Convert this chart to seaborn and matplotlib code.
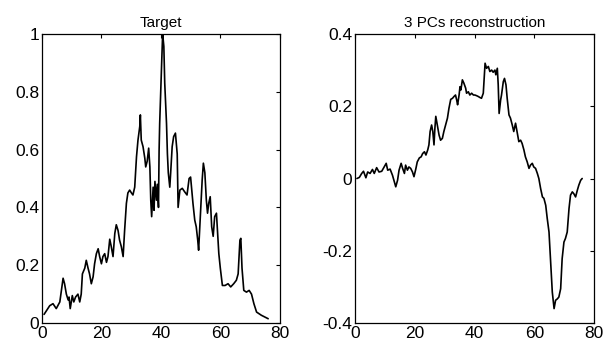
import matplotlib
matplotlib.use("Agg")
import matplotlib.pyplot as plt
import seaborn as sns
import pandas as pd

sns.set_theme(style="white")
plt.rcParams["font.family"] = ["Liberation Sans", "DejaVu Sans"]

# Target series
target_x = [0.7, 2.6, 3.7, 4.8, 6.0, 6.5, 7.1, 7.6, 8.2, 8.8, 9.1, 9.5, 10.2, 10.7,
            11.3, 12.1, 12.7, 13.2, 13.6, 14.4, 14.9, 15.5, 16.0, 16.6, 17.2, 17.7,
            18.3, 18.9, 19.4, 20.0, 20.5, 21.1, 21.7, 22.2, 22.8, 23.3, 23.9, 24.5,
            25.0, 25.6, 26.1, 26.7, 27.3, 27.8, 28.4, 28.9, 29.5, 30.1, 30.6, 31.2,
            31.8, 32.3, 32.9, 33.1, 33.4, 34.0, 34.6, 34.9, 35.4, 35.9, 36.3, 36.6,
            36.9, 37.4, 37.7, 38.0, 38.5, 38.8, 39.2, 39.4, 39.6, 40.0, 40.3, 40.6,
            41.0, 41.3, 41.9, 42.2, 42.5, 43.0, 43.3, 43.8, 44.3, 44.9, 45.5, 45.8,
            46.4, 47.2, 48.0, 48.8, 49.5, 50.0, 50.3, 50.8, 51.4, 51.9, 52.4, 52.7,
            53.1, 53.4, 53.9, 54.3, 54.8, 55.3, 55.7, 56.1, 56.6, 57.1, 57.6, 58.1,
            58.7, 59.1, 59.5, 60.0, 60.7, 61.6, 62.6, 63.5, 64.5, 65.4, 66.0, 66.6,
            66.9, 67.3, 67.9, 68.8, 69.7, 70.5, 71.3, 72.2, 73.8, 76.1]
target_y = [0.03, 0.06, 0.067, 0.05, 0.073, 0.11, 0.155, 0.136, 0.10, 0.08, 0.09,
            0.05, 0.095, 0.073, 0.09, 0.10, 0.073, 0.10, 0.17, 0.19, 0.217, 0.19,
            0.17, 0.136, 0.16, 0.205, 0.24, 0.257, 0.23, 0.205, 0.23, 0.24, 0.21,
            0.23, 0.29, 0.265, 0.23, 0.31, 0.34, 0.32, 0.287, 0.264, 0.23, 0.32,
            0.414, 0.45, 0.46, 0.45, 0.443, 0.47, 0.575, 0.633, 0.68, 0.72, 0.633,
            0.61, 0.57, 0.54, 0.56, 0.605, 0.54, 0.425, 0.368, 0.47, 0.39, 0.49,
            0.425, 0.48, 0.40, 0.595, 0.69, 0.82, 0.91, 1.0, 0.957, 0.83, 0.69,
            0.585, 0.52, 0.47, 0.52, 0.61, 0.645, 0.657, 0.585, 0.40, 0.46, 0.466,
            0.454, 0.443, 0.50, 0.505, 0.47, 0.414, 0.356, 0.333, 0.287, 0.252,
            0.333, 0.40, 0.495, 0.553, 0.52, 0.425, 0.38, 0.414, 0.437, 0.333, 0.30,
            0.368, 0.38, 0.31, 0.24, 0.19, 0.13, 0.13, 0.136, 0.125, 0.136, 0.148,
            0.17, 0.287, 0.293, 0.19, 0.113, 0.107, 0.113, 0.10, 0.067, 0.038,
            0.027, 0.015]

# Reconstruction from the first 3 principal components
recon_x = [0.6, 1.4, 2.2, 2.8, 3.6, 4.2, 5.0, 5.8, 6.4, 7.2, 8.0, 8.9, 9.7, 10.4,
           10.9, 11.7, 12.5, 13.1, 13.6, 14.2, 14.7, 15.4, 15.9, 16.5, 16.9, 17.5,
           18.0, 18.6, 19.2, 19.7, 20.3, 20.8, 21.5, 22.1, 22.6, 23.2, 23.7, 24.3,
           24.7, 25.1, 25.6, 26.0, 26.4, 26.7, 27.0, 27.5, 28.1, 28.6, 29.2, 29.7,
           30.3, 30.9, 31.4, 32.0, 32.6, 33.1, 33.6, 34.0, 34.3, 34.8, 35.1, 35.4,
           35.9, 36.4, 37.0, 37.3, 37.9, 38.4, 39.0, 39.6, 40.1, 40.7, 41.2, 41.8,
           42.3, 42.9, 43.5, 44.0, 44.6, 45.1, 45.7, 46.2, 46.8, 47.1, 47.6, 47.9,
           48.2, 48.7, 49.0, 49.6, 50.0, 50.5, 50.9, 51.5, 52.0, 52.6, 53.1, 53.7,
           54.2, 54.8, 55.4, 55.9, 56.5, 57.0, 57.6, 58.2, 58.7, 59.3, 59.8, 60.4,
           61.0, 61.5, 62.1, 62.7, 63.2, 63.8, 64.3, 64.9, 65.5, 66.0, 66.6, 67.1,
           67.7, 68.2, 68.8, 69.3, 69.9, 70.4, 71.0, 71.6, 72.1, 72.7, 73.2, 73.8,
           74.4, 74.9, 75.5, 76.0]
recon_y = [0.0, 0.003, 0.014, 0.02, 0.002, 0.018, 0.014, 0.025, 0.014, 0.03, 0.018,
           0.02, 0.032, 0.042, 0.023, 0.026, 0.009, -0.009, -0.023, -0.005, 0.023,
           0.042, 0.028, 0.014, 0.037, 0.023, 0.032, 0.028, 0.018, 0.005, 0.026,
           0.046, 0.057, 0.06, 0.069, 0.074, 0.065, 0.079, 0.093, 0.13, 0.148,
           0.13, 0.093, 0.139, 0.172, 0.148, 0.12, 0.106, 0.111, 0.13, 0.148,
           0.167, 0.194, 0.219, 0.222, 0.227, 0.231, 0.217, 0.204, 0.231, 0.254,
           0.245, 0.273, 0.264, 0.25, 0.236, 0.24, 0.231, 0.236, 0.231, 0.231,
           0.229, 0.227, 0.224, 0.222, 0.236, 0.319, 0.305, 0.31, 0.296, 0.30,
           0.294, 0.30, 0.287, 0.305, 0.259, 0.18, 0.217, 0.231, 0.268, 0.277,
           0.259, 0.222, 0.176, 0.167, 0.148, 0.13, 0.153, 0.13, 0.102, 0.106,
           0.097, 0.079, 0.06, 0.046, 0.028, 0.037, 0.042, 0.032, 0.028, 0.014,
           0.0, -0.028, -0.051, -0.055, -0.074, -0.11, -0.148, -0.24, -0.314,
           -0.36, -0.337, -0.333, -0.328, -0.305, -0.222, -0.176, -0.166, -0.148,
           -0.083, -0.046, -0.037, -0.042, -0.051, -0.032, -0.018, -0.005, 0.0]

x_ticks = [0, 20, 40, 60, 80]
x_tick_labels = ["0", "20", "40", "60", "80"]
target_ticks = [0, 0.2, 0.4, 0.6, 0.8, 1.0]
target_tick_labels = ["0", "0.2", "0.4", "0.6", "0.8", "1"]
recon_ticks = [-0.4, -0.2, 0, 0.2, 0.4]
recon_tick_labels = ["-0.4", "-0.2", "0", "0.2", "0.4"]

fig = plt.figure(figsize=(6.05, 3.5), dpi=100)
ax1 = fig.add_axes([0.0694, 0.077, 0.393, 0.826])
ax2 = fig.add_axes([0.587, 0.077, 0.395, 0.826])

panels = [
    (ax1, target_x, target_y, "Target", (0, 1), target_ticks, target_tick_labels),
    (ax2, recon_x, recon_y, "3 PCs reconstruction", (-0.4, 0.4), recon_ticks, recon_tick_labels),
]

for ax, xs, ys, title, ylim, yt, ytl in panels:
    df = pd.DataFrame({"x": xs, "y": ys})
    sns.lineplot(data=df, x="x", y="y", ax=ax, color="black", linewidth=1.2,
                 estimator=None, sort=False)
    ax.set_xlim(0, 80)
    ax.set_ylim(*ylim)
    ax.set_xticks(x_ticks)
    ax.set_xticklabels(x_tick_labels)
    ax.set_yticks(yt)
    ax.set_yticklabels(ytl)
    ax.set_xlabel("")
    ax.set_ylabel("")
    ax.set_title(title, fontsize=11, color="black", pad=5)
    ax.tick_params(direction="in", length=3, width=0.8, colors="black",
                   labelsize=12.5, top=True, right=True, pad=2,
                   labeltop=False, labelright=False)
    ax.set_facecolor("white")
    for s in ax.spines.values():
        s.set_color("black")
        s.set_linewidth(0.9)

fig.savefig("out.png", dpi=100, facecolor="white")
